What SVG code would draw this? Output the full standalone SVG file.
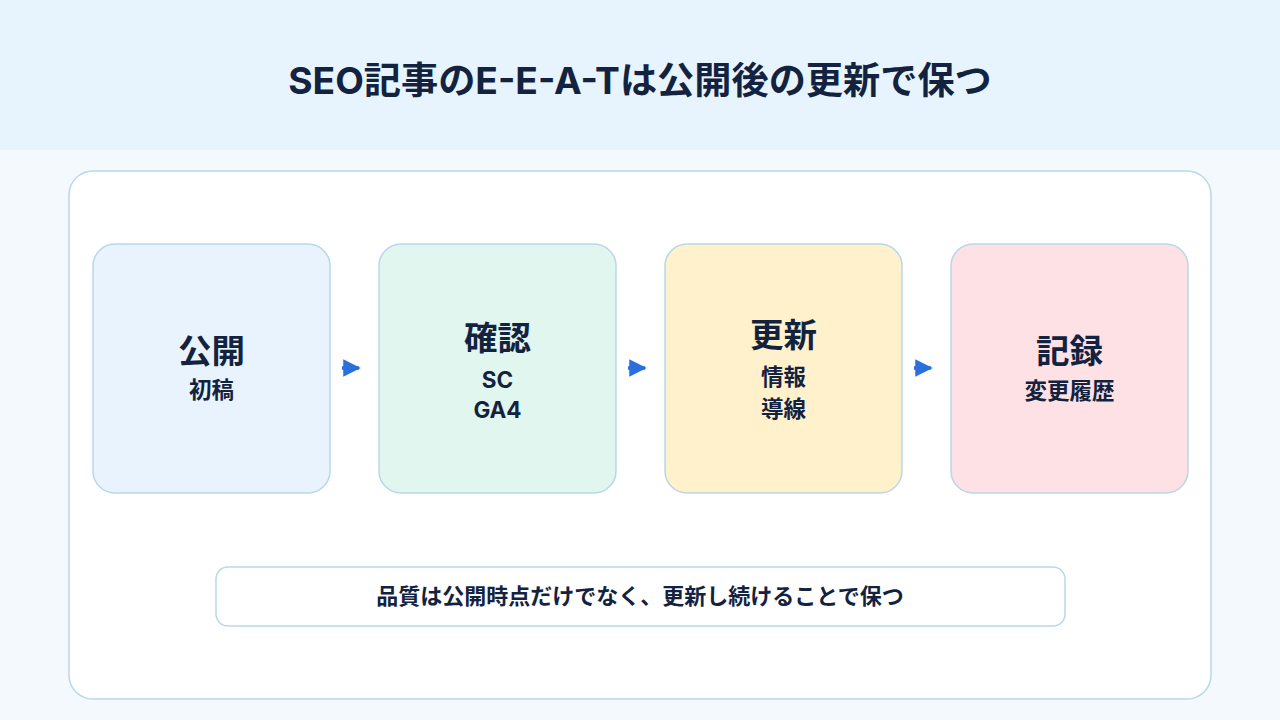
<svg xmlns="http://www.w3.org/2000/svg" width="1280" height="720" viewBox="0 0 1280 720">
<defs>
<marker id="ah" viewBox="0 0 10 10" refX="9" refY="5" markerWidth="5" markerHeight="5" orient="auto" markerUnits="strokeWidth">
<path d="M0,0 L10,5 L0,10 Z" fill="#2a6fdb"/>
</marker>
<style>
text{font-family:Inter,"Noto Sans CJK JP","Noto Sans",sans-serif;font-weight:700;fill:#13233f;text-anchor:middle}
.node{stroke:#b9d7e9;stroke-width:1.5}
.t{font-size:33.5px}
.s{font-size:22.5px}
.conn{stroke:#2a6fdb;stroke-width:3.5;fill:none}
</style>
</defs>
<rect x="0" y="0" width="1280" height="720" fill="#f4f9fd"/>
<rect x="0" y="0" width="1280" height="150" fill="#e7f4fd"/>
<text x="640" y="94" style="font-size:37.2px">SEO記事のE-E-A-Tは公開後の更新で保つ</text>
<rect x="69" y="171" width="1142" height="528" rx="24" fill="#ffffff" stroke="#b9d7e9" stroke-width="1.5"/>
<g id="n1">
<rect class="node" x="93" y="244" width="237" height="249" rx="22" fill="#e8f3fd"/>
<text class="t" x="211.5" y="363">公開</text>
<text class="s" x="211.5" y="398">初稿</text>
</g>
<g id="n2">
<rect class="node" x="379" y="244" width="237" height="249" rx="22" fill="#e0f6ef"/>
<text class="t" x="497.5" y="350">確認</text>
<text class="s" x="497.5" y="388">SC</text>
<text class="s" x="497.5" y="418">GA4</text>
</g>
<g id="n3">
<rect class="node" x="665" y="244" width="237" height="249" rx="22" fill="#fef1cc"/>
<text class="t" x="783.5" y="347">更新</text>
<text class="s" x="783.5" y="385">情報</text>
<text class="s" x="783.5" y="417">導線</text>
</g>
<g id="n4">
<rect class="node" x="951" y="244" width="237" height="249" rx="22" fill="#fde1e5"/>
<text class="t" x="1069.5" y="363">記録</text>
<text class="s" x="1069.5" y="399">変更履歴</text>
</g>
<g id="connectors">
<line class="conn" x1="342" y1="368" x2="359" y2="368" marker-end="url(#ah)"/>
<line class="conn" x1="628" y1="368" x2="645" y2="368" marker-end="url(#ah)"/>
<line class="conn" x1="914" y1="368" x2="931" y2="368" marker-end="url(#ah)"/>
</g>
<g id="note">
<rect x="216" y="567" width="849" height="59" rx="12" fill="#ffffff" stroke="#b9d7e9" stroke-width="1.5"/>
<text x="640" y="604" style="font-size:22px">品質は公開時点だけでなく、更新し続けることで保つ</text>
</g>
</svg>
